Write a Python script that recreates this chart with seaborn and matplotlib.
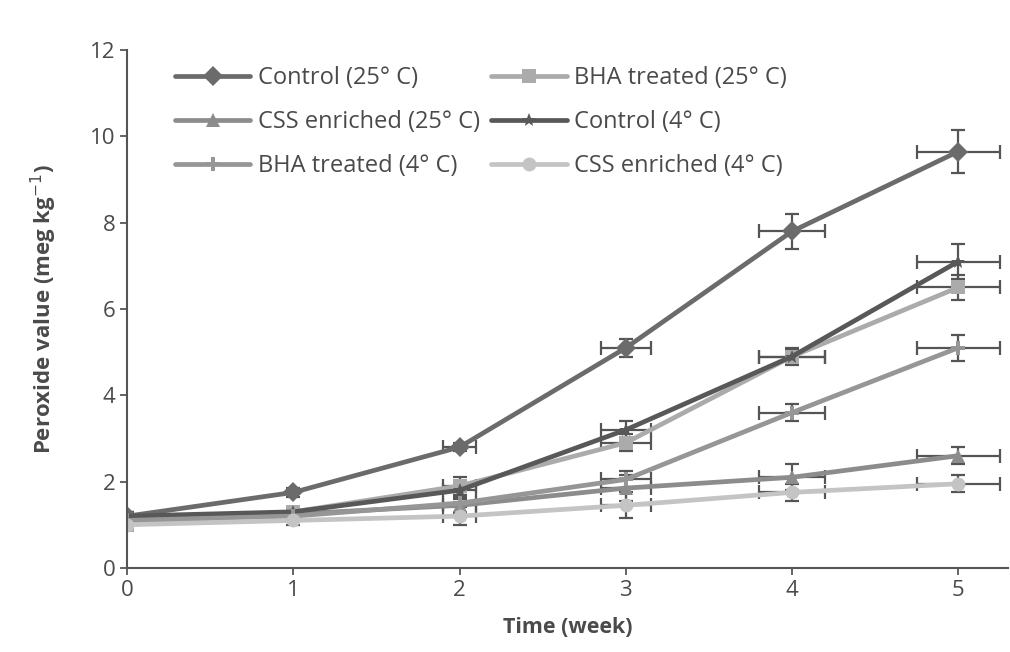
import numpy as np
import pandas as pd
import matplotlib
matplotlib.use("Agg")
import matplotlib.pyplot as plt
import seaborn as sns

# weeks of storage
weeks = [0, 1, 2, 3, 4, 5]

# peroxide values (meq/kg)
control_25 = [1.2, 1.75, 2.8, 5.1, 7.8, 9.65]
bha_25 = [1.0, 1.3, 1.9, 2.9, 4.9, 6.5]
css_25 = [1.1, 1.25, 1.45, 1.85, 2.1, 2.6]
control_4 = [1.2, 1.3, 1.8, 3.2, 4.9, 7.1]
bha_4 = [1.1, 1.2, 1.5, 2.05, 3.6, 5.1]
css_4 = [1.0, 1.1, 1.2, 1.45, 1.75, 1.95]

# error bars (y and x)
control_25_yerr = [0.1, 0.1, 0.1, 0.2, 0.4, 0.5]
bha_25_yerr = [0.1, 0.1, 0.2, 0.2, 0.2, 0.3]
css_25_yerr = [0.1, 0.1, 0.2, 0.3, 0.3, 0.2]
control_4_yerr = [0.1, 0.1, 0.2, 0.2, 0.15, 0.4]
bha_4_yerr = [0.1, 0.1, 0.2, 0.2, 0.2, 0.3]
css_4_yerr = [0.1, 0.1, 0.2, 0.3, 0.2, 0.2]
time_xerr = [0.0, 0.0, 0.1, 0.15, 0.2, 0.25]

labels = ["Control (25° C)", "BHA treated (25° C)", "CSS enriched (25° C)",
          "Control (4° C)", "BHA treated (4° C)", "CSS enriched (4° C)"]
series = [control_25, bha_25, css_25, control_4, bha_4, css_4]
yerrs = [control_25_yerr, bha_25_yerr, css_25_yerr, control_4_yerr, bha_4_yerr, css_4_yerr]

colors = ["#6b6b6b", "#ababab", "#8c8c8c", "#585858", "#969696", "#c4c4c4"]
marker_map = ["D", "s", "^", "*", "P", "o"]

rows = []
for lab, vals in zip(labels, series):
    for w, v in zip(weeks, vals):
        rows.append({"Time": w, "Value": v, "Group": lab})
df = pd.DataFrame(rows)

sns.set_style("ticks")
plt.rcParams['font.family'] = ['Open Sans', 'DejaVu Sans']

fig, ax = plt.subplots(figsize=(10.1, 6.52), dpi=100)
fig.subplots_adjust(left=0.126, right=0.998, bottom=0.129, top=0.923)

# error bars first so the lines sit on top
for vals, ye in zip(series, yerrs):
    ax.errorbar(weeks, vals, yerr=ye, xerr=time_xerr, fmt="none",
                ecolor="#555555", elinewidth=1.6, capsize=5, capthick=1.6, zorder=1)

sns.lineplot(data=df, x="Time", y="Value", hue="Group", style="Group",
             hue_order=labels, style_order=labels,
             palette=dict(zip(labels, colors)),
             markers=dict(zip(labels, marker_map)),
             dashes=False, linewidth=3.4, markersize=10, markeredgewidth=0,
             ax=ax, zorder=2)

ax.set_xlim(0, 5.3)
ax.set_ylim(0, 12)
ax.set_xticks(weeks)
ax.set_yticks([0, 2, 4, 6, 8, 10, 12])
ax.tick_params(axis="both", labelsize=16, colors="#4a4a4a", length=5, width=1.2)
ax.set_xlabel("Time (week)", fontsize=15.5, fontweight="bold", color="#4a4a4a", labelpad=12)
ax.set_ylabel("Peroxide value (meg kg$^{-1}$)", fontsize=16, fontweight="bold",
              color="#4a4a4a", labelpad=22)
sns.despine(ax=ax)
for s in ["left", "bottom"]:
    ax.spines[s].set_color("#555555")
    ax.spines[s].set_linewidth(1.5)

handles, labs = ax.get_legend_handles_labels()
order = [0, 2, 4, 1, 3, 5]
ax.legend([handles[i] for i in order], [labs[i] for i in order],
          ncol=2, frameon=False, fontsize=17, loc="upper left",
          bbox_to_anchor=(0.03, 1.01), handlelength=3.2, columnspacing=0.5,
          labelspacing=0.85, handletextpad=0.3, labelcolor="#4a4a4a")

fig.savefig("out.png", dpi=100)
